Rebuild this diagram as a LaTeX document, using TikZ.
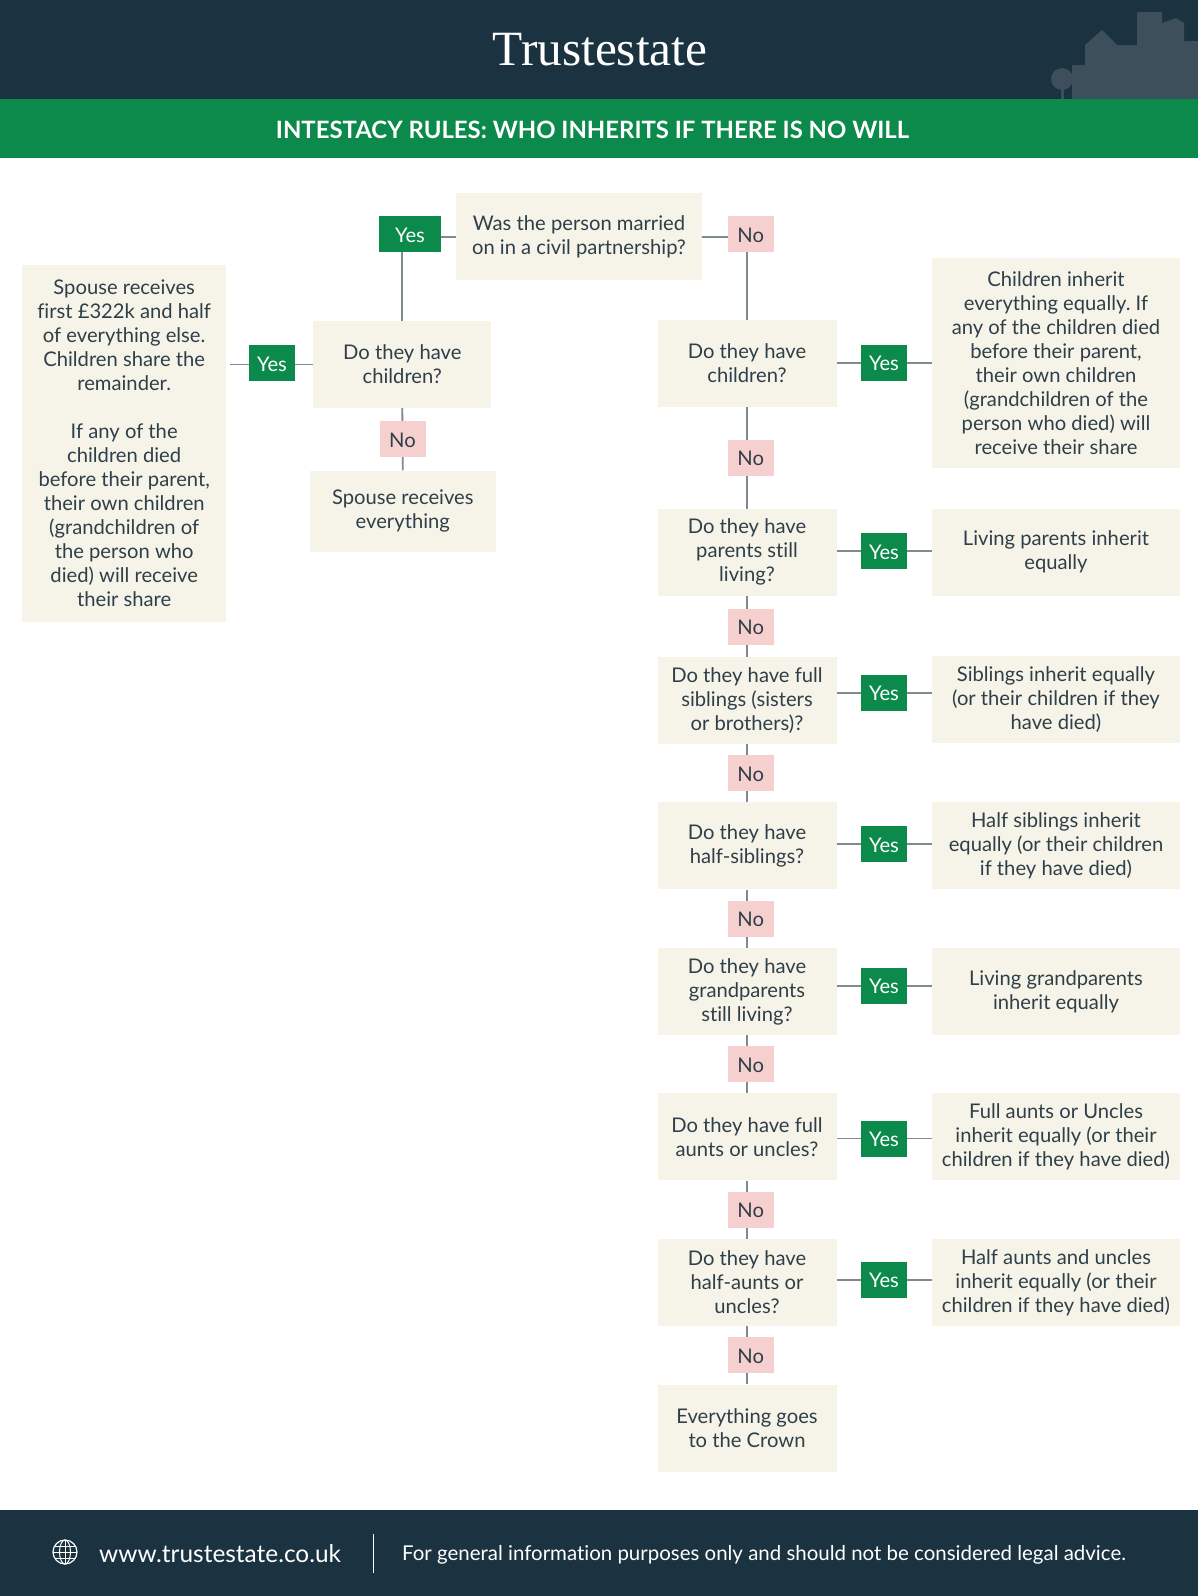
\documentclass[tikz,border=0pt]{standalone}
\usepackage{fontspec}
\setmainfont[Ligatures=NoCommon]{Lato}
\newfontfamily\titlefont{Liberation Serif}
\usepackage{xcolor}
\usetikzlibrary{backgrounds}
\frenchspacing
\definecolor{navy}{HTML}{1B3240}
\definecolor{leaf}{HTML}{0B8A4C}
\definecolor{cream}{HTML}{F6F4E8}
\definecolor{blush}{HTML}{F6CFCF}
\definecolor{ink}{HTML}{2F3F49}
\definecolor{wire}{HTML}{7F8A8F}
\definecolor{skyline}{HTML}{3D4F5A}
\newcommand{\badgestrut}{\vrule width 0pt height 18pt depth 2pt\relax}
\newcommand{\boxstrut}{\vrule width 0pt height 20pt depth 0pt\relax}
\tikzset{
  txt/.style={font=\fontsize{20.2}{24}\selectfont,text=ink,align=center,inner sep=0pt},
  boxtxt/.style={txt,fill=cream,execute at begin node=\boxstrut,execute at end node=\boxstrut},
  badge/.style={txt,minimum width=46pt,minimum height=36pt,execute at begin node=\badgestrut,execute at end node=\badgestrut},
  qbox/.style={boxtxt,minimum width=179pt,minimum height=87pt},
  abox/.style={boxtxt,minimum width=247.4pt,minimum height=87pt},
  yesb/.style={badge,fill=leaf,text=white},
  nob/.style={badge,fill=blush},
  link/.style={draw=wire,line width=1.8pt}
}

\begin{document}
\begin{tikzpicture}[x=1pt,y=-1pt]
    \useasboundingbox (0,0) rectangle (1198,1596);
    % header and footer
    \fill[navy] (0,0) rectangle (1198,99);
    \fill[skyline] (1072,99) -- (1072,65) -- (1085,65) -- (1085,45) -- (1102,30) -- (1117,45) -- (1137,45) -- (1137,12) -- (1162,12) -- (1162,23) -- (1176,18) -- (1184,23) -- (1184,41) -- (1198,41) -- (1198,99) -- cycle;
    \fill[skyline] (1062,79) circle (11);
    \fill[skyline] (1060.5,85) rectangle (1063.5,99);
    \fill[leaf] (0,99) rectangle (1198,158);
    \fill[navy] (0,1510) rectangle (1198,1596);
    \node[inner sep=0pt,text=white,font=\titlefont\fontsize{49.3}{52}\selectfont] (title) at (600,49.5) {Trustestate};
    \node[inner sep=0pt,text=white,font=\fontsize{23.9}{26}\selectfont\bfseries] (banner) at (592.5,129.5) {INTESTACY RULES: WHO INHERITS IF THERE IS NO WILL};

    % left branch
    \node[qbox,minimum width=246pt,minimum height=86.5pt] (q0) at (579,236.6) {Was the person married\\on in a civil partnership?};
    \node[yesb,minimum width=62pt] (ytop) at (410,234) {Yes};
    \node[nob] (ntop) at (750.7,234) {No};
    \node[qbox,minimum width=178pt] (lchild) at (402.3,364.5) {Do they have\\children?};
    \node[yesb] (ylchild) at (272,363) {Yes};
    \node[nob] (nlchild) at (402.5,439.3) {No};
    \node[qbox,minimum width=186pt,minimum height=81pt] (lspouse) at (402.8,511) {Spouse receives\\everything};
    \node[abox,minimum width=203.6pt,minimum height=357.4pt] (lshare) at (124.2,443.3) {Spouse receives\\first £322k and half\\of everything else.\\Children share the\\remainder.\\[24pt]If any of the\\children died\\before their parent,\\their own children\\(grandchildren of\\the person who\\died) will receive\\their share};

    % right column
    \node[qbox] (rchild) at (747,363.4) {Do they have\\children?};
    \node[abox,minimum height=210.7pt] (achild) at (1056,362.9) {Children inherit\\everything equally. If\\any of the children died\\before their parent,\\their own children\\(grandchildren of the\\person who died) will\\receive their share};
    \node[yesb] (ychild) at (884,362.9) {Yes};
    \node[nob] (nchild) at (750.7,457.5) {No};

    \node[qbox] (rparent) at (747,552.2) {Do they have\\parents still\\living?};
    \node[abox] (aparent) at (1056,552.2) {Living parents inherit\\equally};
    \node[yesb] (yparent) at (884,551.2) {Yes};
    \node[nob] (nparent) at (750.7,626.5) {No};

    \node[qbox] (rsib) at (747,700.3) {Do they have full\\siblings (sisters\\or brothers)?};
    \node[abox] (asib) at (1056,699.8) {Siblings inherit equally\\(or their children if they\\have died)};
    \node[yesb] (ysib) at (884,692.6) {Yes};
    \node[nob] (nsib) at (750.7,773) {No};

    \node[qbox] (rhalf) at (747,845.8) {Do they have\\half-siblings?};
    \node[abox] (ahalf) at (1056,845.8) {Half siblings inherit\\equally (or their children\\if they have died)};
    \node[yesb] (yhalf) at (884,844.3) {Yes};
    \node[nob] (nhalf) at (750.7,918.6) {No};

    \node[qbox] (rgrand) at (747,991.4) {Do they have\\grandparents\\still living?};
    \node[abox] (agrand) at (1056,991.4) {Living grandparents\\inherit equally};
    \node[yesb] (ygrand) at (884,985.8) {Yes};
    \node[nob] (ngrand) at (750.7,1064.2) {No};

    \node[qbox] (raunt) at (747,1136.9) {Do they have full\\aunts or uncles?};
    \node[abox] (aaunt) at (1056,1136.9) {Full aunts or Uncles\\inherit equally (or their\\children if they have died)};
    \node[yesb] (yaunt) at (884,1138.5) {Yes};
    \node[nob] (naunt) at (750.7,1209.7) {No};

    \node[qbox] (rhaunt) at (747,1282.5) {Do they have\\half-aunts or\\uncles?};
    \node[abox] (ahaunt) at (1056,1282.5) {Half aunts and uncles\\inherit equally (or their\\children if they have died)};
    \node[yesb] (yhaunt) at (884,1279.9) {Yes};
    \node[nob] (nhaunt) at (750.7,1355.3) {No};

    \node[qbox] (rcrown) at (747,1428) {Everything goes\\to the Crown};

    % footer content
    \coordinate (globe) at (65,1552);
    \draw[white,line width=1.2pt] (globe) circle (12);
    \draw[white,line width=1pt] (globe) ellipse (5.5 and 12);
    \draw[white,line width=1pt] (53,1552) -- (77,1552) (54.5,1546) -- (75.5,1546) (54.5,1558) -- (75.5,1558) (65,1540) -- (65,1564);
    \node[anchor=west,inner sep=0pt,text=white,font=\fontsize{24.4}{28}\selectfont] (url) at (99,1554) {www.trustestate.co.uk};
    \draw[white,line width=1.2pt] (373.5,1534) -- (373.5,1573);
    \node[anchor=west,inner sep=0pt,text=white,font=\fontsize{20.45}{24}\selectfont] (note) at (402,1554.5) {For general information purposes only and should not be considered legal advice.};

    % connectors
    \begin{scope}[on background layer]
        \draw[link] (q0.west) -- (ytop.east |- q0.west);
        \draw[link] (q0.east) -- (ntop.west |- q0.east);
        \draw[link] (ytop.south -| lchild.north) -- (lchild.north);
        \draw[link,shorten >=4pt] (lchild.west) -- (lshare.east |- lchild.west);
        \draw[link] (lchild.south) -- (lspouse.north);
        \draw[link] (ntop.south -| rchild.north) -- (rchild.north);
        \draw[link] (rchild.south) -- (rparent.north);
        \draw[link] (rparent.south) -- (rsib.north);
        \draw[link] (rsib.south) -- (rhalf.north);
        \draw[link] (rhalf.south) -- (rgrand.north);
        \draw[link] (rgrand.south) -- (raunt.north);
        \draw[link] (raunt.south) -- (rhaunt.north);
        \draw[link] (rhaunt.south) -- (rcrown.north);
        \draw[link] (rchild.east |- ychild) -- (achild.west |- ychild);
        \draw[link] (rparent.east |- yparent) -- (aparent.west |- yparent);
        \draw[link] (rsib.east |- ysib) -- (asib.west |- ysib);
        \draw[link] (rhalf.east |- yhalf) -- (ahalf.west |- yhalf);
        \draw[link] (rgrand.east |- ygrand) -- (agrand.west |- ygrand);
        \draw[link] (raunt.east |- yaunt) -- (aaunt.west |- yaunt);
        \draw[link] (rhaunt.east |- yhaunt) -- (ahaunt.west |- yhaunt);
    \end{scope}
\end{tikzpicture}
\end{document}
